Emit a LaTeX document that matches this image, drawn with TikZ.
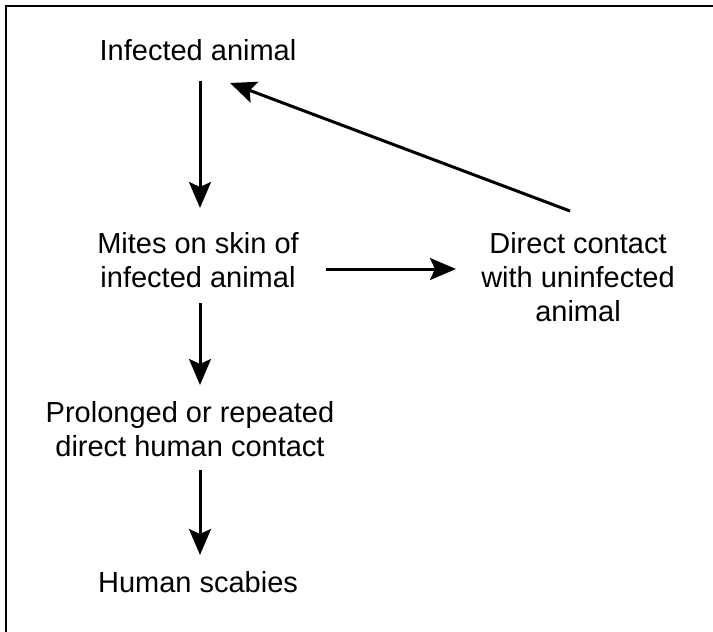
\documentclass[tikz,border=0pt]{standalone}
\usepackage{fontspec}
\setmainfont{Liberation Sans}
\usetikzlibrary{arrows.meta,calc}
\begin{document}
\begin{tikzpicture}[x=1pt,y=-1pt,
  lbl/.style={align=center,inner sep=0pt,font=\fontsize{29}{34}\selectfont},
  arr/.style={line width=3pt,-{Stealth[length=26pt,width=22pt,inset=5pt]}},
  frame/.style={line width=2.5pt}]
\useasboundingbox (0,0) rectangle (713,632);
\draw[frame] (6,632) -- (6,6) -- (713,6);
\node[lbl] (a) at (198,50) {Infected animal};
\node[lbl] (b) at (198,260) {Mites on skin of\\infected animal};
\node[lbl] (c) at (578,277) {Direct contact\\with uninfected\\animal};
\node[lbl] (d) at (190,429) {Prolonged or repeated\\direct human contact};
\node[lbl] (e) at (198,582) {Human scabies};
\draw[arr] ($(a)+(2,31)$) -- ($(b)+(2,-52)$);
\draw[arr] ($(b)+(2,43)$) -- ($(d)+(10,-44)$);
\draw[arr] ($(d)+(10,41)$) -- ($(e)+(2,-27)$);
\draw[arr] ($(b)+(128,9)$) -- ($(c)+(-122,-8)$);
\draw[arr] ($(c)+(-8,-66)$) -- ($(a)+(32,33)$);
\end{tikzpicture}
\end{document}
